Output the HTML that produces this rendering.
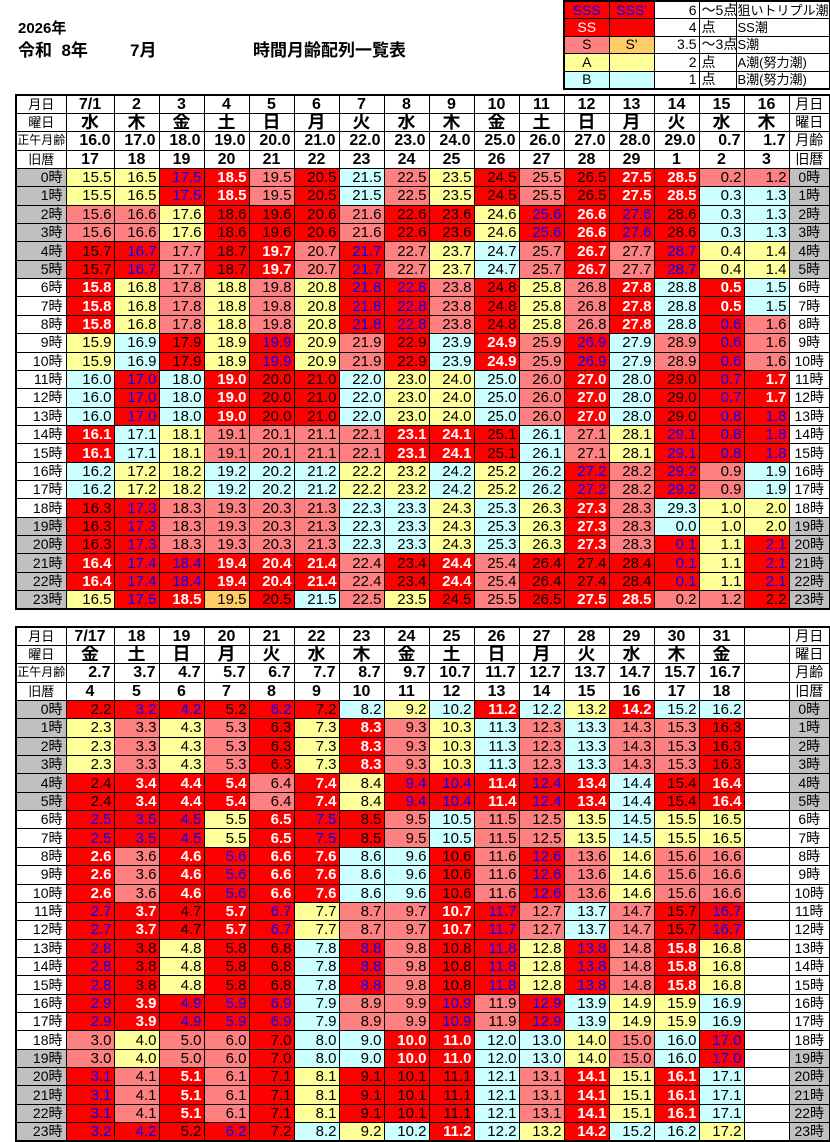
<!DOCTYPE html>
<html><head><meta charset="utf-8">
<style>
body{margin:0;width:830px;height:1142px;background:#fff;position:relative;overflow:hidden;font-family:"Liberation Sans","Noto Sans CJK JP",sans-serif}
.t{position:absolute;font-weight:bold;font-size:17px;color:#000;white-space:nowrap}
table{position:absolute;border-collapse:collapse;table-layout:fixed;border:2px solid #000}
td{border:1px solid #000;padding:0 2px 0 0;text-align:right;font-size:15px;line-height:15px;white-space:nowrap;overflow:hidden;color:#000}
.m tr{height:18.36px}
.m td:first-child{font-size:14px;padding-right:3px}
.m td:last-child{text-align:center;font-size:14px;padding:0}
.h td{text-align:center;font-weight:bold;font-size:16px;padding:0}
.h.w td{font-size:18px}
.h td.r{text-align:right;padding-right:3px}
.h td:first-child{font-weight:normal;font-size:13px;text-align:center;padding:0}
.h td:last-child{font-weight:normal;font-size:14px}
.g{background:#c0c0c0}
.Y{background:#ffff99}.C{background:#ccffff}.P{background:#ff8080}.R{background:#ff0000}
.W{background:#ff0000;color:#fff;font-weight:bold}.U{background:#ff0000;color:#0000ff}.O{background:#ffcc66}
.L td{font-size:14px;height:16px;padding:0 2px}
.L .c{text-align:center}.L .l{text-align:left}.L .s{font-size:13px;padding:0 1px}
</style></head><body>
<div class="t" style="left:18px;top:17px;font-size:15px">2026年</div>
<div class="t" style="left:18px;top:36px">令和&nbsp;&nbsp;8年</div>
<div class="t" style="left:130px;top:36px">7月</div>
<div class="t" style="left:253px;top:36px">時間月齢配列一覧表</div>

<table class="L" style="left:563px;top:0;width:266px;height:90px">
<colgroup><col style="width:45px"><col style="width:45px"><col style="width:45px"><col style="width:37px"><col style="width:94px"></colgroup>
<tr><td class="U c">SSS</td><td class="U c">SSS'</td><td>6</td><td class="l">～5点</td><td class="l s">狙いトリプル潮</td></tr>
<tr><td class="W c" style="font-weight:normal">SS</td><td class="R"></td><td>4</td><td class="l">点</td><td class="l s">SS潮</td></tr>
<tr><td class="P c">S</td><td class="O c">S'</td><td>3.5</td><td class="l">～3点</td><td class="l s">S潮</td></tr>
<tr><td class="Y c">A</td><td class="Y"></td><td>2</td><td class="l">点</td><td class="l s">A潮(努力潮)</td></tr>
<tr><td class="C c">B</td><td class="C"></td><td>1</td><td class="l">点</td><td class="l s">B潮(努力潮)</td></tr>
</table>

<table class="m" style="left:15px;top:94px;width:814px;height:516px">
<colgroup><col style="width:50px"><col style="width:48px"><col span="15" style="width:45px"><col style="width:41px"></colgroup>
<tr class="h"><td>月日</td><td>7/1</td><td>2</td><td>3</td><td>4</td><td>5</td><td>6</td><td>7</td><td>8</td><td>9</td><td>10</td><td>11</td><td>12</td><td>13</td><td>14</td><td>15</td><td>16</td><td>月日</td></tr>
<tr class="h w"><td>曜日</td><td>水</td><td>木</td><td>金</td><td>土</td><td>日</td><td>月</td><td>火</td><td>水</td><td>木</td><td>金</td><td>土</td><td>日</td><td>月</td><td>火</td><td>水</td><td>木</td><td>曜日</td></tr>
<tr class="h"><td style="font-size:12px">正午月齢</td><td class="r">16.0</td><td class="r">17.0</td><td class="r">18.0</td><td class="r">19.0</td><td class="r">20.0</td><td class="r">21.0</td><td class="r">22.0</td><td class="r">23.0</td><td class="r">24.0</td><td class="r">25.0</td><td class="r">26.0</td><td class="r">27.0</td><td class="r">28.0</td><td class="r">29.0</td><td class="r">0.7</td><td class="r">1.7</td><td>月齢</td></tr>
<tr class="h"><td>旧暦</td><td>17</td><td>18</td><td>19</td><td>20</td><td>21</td><td>22</td><td>23</td><td>24</td><td>25</td><td>26</td><td>27</td><td>28</td><td>29</td><td>1</td><td>2</td><td>3</td><td>旧暦</td></tr>
<tr><td class="g">0時</td><td class="Y">15.5</td><td class="Y">16.5</td><td class="U">17.5</td><td class="W">18.5</td><td class="P">19.5</td><td class="R">20.5</td><td class="C">21.5</td><td class="P">22.5</td><td class="Y">23.5</td><td class="R">24.5</td><td class="P">25.5</td><td class="R">26.5</td><td class="W">27.5</td><td class="W">28.5</td><td class="P">0.2</td><td class="P">1.2</td><td class="g">0時</td></tr>
<tr><td class="g">1時</td><td class="Y">15.5</td><td class="Y">16.5</td><td class="U">17.5</td><td class="W">18.5</td><td class="P">19.5</td><td class="R">20.5</td><td class="C">21.5</td><td class="P">22.5</td><td class="Y">23.5</td><td class="R">24.5</td><td class="P">25.5</td><td class="R">26.5</td><td class="W">27.5</td><td class="W">28.5</td><td class="C">0.3</td><td class="C">1.3</td><td class="g">1時</td></tr>
<tr><td class="g">2時</td><td class="P">15.6</td><td class="P">16.6</td><td class="Y">17.6</td><td class="R">18.6</td><td class="R">19.6</td><td class="R">20.6</td><td class="P">21.6</td><td class="R">22.6</td><td class="R">23.6</td><td class="Y">24.6</td><td class="U">25.6</td><td class="W">26.6</td><td class="U">27.6</td><td class="R">28.6</td><td class="C">0.3</td><td class="C">1.3</td><td class="g">2時</td></tr>
<tr><td class="g">3時</td><td class="P">15.6</td><td class="P">16.6</td><td class="Y">17.6</td><td class="R">18.6</td><td class="R">19.6</td><td class="R">20.6</td><td class="P">21.6</td><td class="R">22.6</td><td class="R">23.6</td><td class="Y">24.6</td><td class="U">25.6</td><td class="W">26.6</td><td class="U">27.6</td><td class="R">28.6</td><td class="C">0.3</td><td class="C">1.3</td><td class="g">3時</td></tr>
<tr><td class="g">4時</td><td class="R">15.7</td><td class="U">16.7</td><td class="P">17.7</td><td class="R">18.7</td><td class="W">19.7</td><td class="P">20.7</td><td class="U">21.7</td><td class="P">22.7</td><td class="Y">23.7</td><td class="C">24.7</td><td class="P">25.7</td><td class="W">26.7</td><td class="P">27.7</td><td class="U">28.7</td><td class="Y">0.4</td><td class="Y">1.4</td><td class="g">4時</td></tr>
<tr><td class="g">5時</td><td class="R">15.7</td><td class="U">16.7</td><td class="P">17.7</td><td class="R">18.7</td><td class="W">19.7</td><td class="P">20.7</td><td class="U">21.7</td><td class="P">22.7</td><td class="Y">23.7</td><td class="C">24.7</td><td class="P">25.7</td><td class="W">26.7</td><td class="P">27.7</td><td class="U">28.7</td><td class="Y">0.4</td><td class="Y">1.4</td><td class="g">5時</td></tr>
<tr><td>6時</td><td class="W">15.8</td><td class="Y">16.8</td><td class="P">17.8</td><td class="Y">18.8</td><td class="P">19.8</td><td class="Y">20.8</td><td class="U">21.8</td><td class="U">22.8</td><td class="P">23.8</td><td class="R">24.8</td><td class="Y">25.8</td><td class="P">26.8</td><td class="W">27.8</td><td class="C">28.8</td><td class="W">0.5</td><td class="C">1.5</td><td>6時</td></tr>
<tr><td>7時</td><td class="W">15.8</td><td class="Y">16.8</td><td class="P">17.8</td><td class="Y">18.8</td><td class="P">19.8</td><td class="Y">20.8</td><td class="U">21.8</td><td class="U">22.8</td><td class="P">23.8</td><td class="R">24.8</td><td class="Y">25.8</td><td class="P">26.8</td><td class="W">27.8</td><td class="C">28.8</td><td class="W">0.5</td><td class="C">1.5</td><td>7時</td></tr>
<tr><td>8時</td><td class="W">15.8</td><td class="Y">16.8</td><td class="P">17.8</td><td class="Y">18.8</td><td class="P">19.8</td><td class="Y">20.8</td><td class="U">21.8</td><td class="U">22.8</td><td class="P">23.8</td><td class="R">24.8</td><td class="Y">25.8</td><td class="P">26.8</td><td class="W">27.8</td><td class="C">28.8</td><td class="U">0.6</td><td class="P">1.6</td><td>8時</td></tr>
<tr><td>9時</td><td class="Y">15.9</td><td class="C">16.9</td><td class="R">17.9</td><td class="Y">18.9</td><td class="U">19.9</td><td class="Y">20.9</td><td class="P">21.9</td><td class="R">22.9</td><td class="C">23.9</td><td class="W">24.9</td><td class="P">25.9</td><td class="U">26.9</td><td class="C">27.9</td><td class="P">28.9</td><td class="U">0.6</td><td class="P">1.6</td><td>9時</td></tr>
<tr><td>10時</td><td class="Y">15.9</td><td class="C">16.9</td><td class="R">17.9</td><td class="Y">18.9</td><td class="U">19.9</td><td class="Y">20.9</td><td class="P">21.9</td><td class="R">22.9</td><td class="C">23.9</td><td class="W">24.9</td><td class="P">25.9</td><td class="U">26.9</td><td class="C">27.9</td><td class="P">28.9</td><td class="U">0.6</td><td class="P">1.6</td><td>10時</td></tr>
<tr><td>11時</td><td class="C">16.0</td><td class="U">17.0</td><td class="C">18.0</td><td class="W">19.0</td><td class="R">20.0</td><td class="R">21.0</td><td class="C">22.0</td><td class="Y">23.0</td><td class="Y">24.0</td><td class="C">25.0</td><td class="P">26.0</td><td class="W">27.0</td><td class="C">28.0</td><td class="R">29.0</td><td class="U">0.7</td><td class="W">1.7</td><td>11時</td></tr>
<tr><td>12時</td><td class="C">16.0</td><td class="U">17.0</td><td class="C">18.0</td><td class="W">19.0</td><td class="R">20.0</td><td class="R">21.0</td><td class="C">22.0</td><td class="Y">23.0</td><td class="Y">24.0</td><td class="C">25.0</td><td class="P">26.0</td><td class="W">27.0</td><td class="C">28.0</td><td class="R">29.0</td><td class="U">0.7</td><td class="W">1.7</td><td>12時</td></tr>
<tr><td>13時</td><td class="C">16.0</td><td class="U">17.0</td><td class="C">18.0</td><td class="W">19.0</td><td class="R">20.0</td><td class="R">21.0</td><td class="C">22.0</td><td class="Y">23.0</td><td class="Y">24.0</td><td class="C">25.0</td><td class="P">26.0</td><td class="W">27.0</td><td class="C">28.0</td><td class="R">29.0</td><td class="U">0.8</td><td class="U">1.8</td><td>13時</td></tr>
<tr><td>14時</td><td class="W">16.1</td><td class="C">17.1</td><td class="Y">18.1</td><td class="P">19.1</td><td class="P">20.1</td><td class="P">21.1</td><td class="P">22.1</td><td class="W">23.1</td><td class="W">24.1</td><td class="R">25.1</td><td class="C">26.1</td><td class="P">27.1</td><td class="Y">28.1</td><td class="U">29.1</td><td class="U">0.8</td><td class="U">1.8</td><td>14時</td></tr>
<tr><td>15時</td><td class="W">16.1</td><td class="C">17.1</td><td class="Y">18.1</td><td class="P">19.1</td><td class="P">20.1</td><td class="P">21.1</td><td class="P">22.1</td><td class="W">23.1</td><td class="W">24.1</td><td class="R">25.1</td><td class="C">26.1</td><td class="P">27.1</td><td class="Y">28.1</td><td class="U">29.1</td><td class="U">0.8</td><td class="U">1.8</td><td>15時</td></tr>
<tr><td>16時</td><td class="C">16.2</td><td class="Y">17.2</td><td class="Y">18.2</td><td class="C">19.2</td><td class="C">20.2</td><td class="C">21.2</td><td class="Y">22.2</td><td class="Y">23.2</td><td class="C">24.2</td><td class="Y">25.2</td><td class="C">26.2</td><td class="U">27.2</td><td class="P">28.2</td><td class="U">29.2</td><td class="P">0.9</td><td class="C">1.9</td><td>16時</td></tr>
<tr><td>17時</td><td class="C">16.2</td><td class="Y">17.2</td><td class="Y">18.2</td><td class="C">19.2</td><td class="C">20.2</td><td class="C">21.2</td><td class="Y">22.2</td><td class="Y">23.2</td><td class="C">24.2</td><td class="Y">25.2</td><td class="C">26.2</td><td class="U">27.2</td><td class="P">28.2</td><td class="U">29.2</td><td class="P">0.9</td><td class="C">1.9</td><td>17時</td></tr>
<tr><td>18時</td><td class="R">16.3</td><td class="U">17.3</td><td class="P">18.3</td><td class="P">19.3</td><td class="P">20.3</td><td class="P">21.3</td><td class="C">22.3</td><td class="C">23.3</td><td class="Y">24.3</td><td class="C">25.3</td><td class="Y">26.3</td><td class="W">27.3</td><td class="P">28.3</td><td class="C">29.3</td><td class="Y">1.0</td><td class="Y">2.0</td><td>18時</td></tr>
<tr><td class="g">19時</td><td class="R">16.3</td><td class="U">17.3</td><td class="P">18.3</td><td class="P">19.3</td><td class="P">20.3</td><td class="P">21.3</td><td class="C">22.3</td><td class="C">23.3</td><td class="Y">24.3</td><td class="C">25.3</td><td class="Y">26.3</td><td class="W">27.3</td><td class="P">28.3</td><td class="C">0.0</td><td class="Y">1.0</td><td class="Y">2.0</td><td class="g">19時</td></tr>
<tr><td class="g">20時</td><td class="R">16.3</td><td class="U">17.3</td><td class="P">18.3</td><td class="P">19.3</td><td class="P">20.3</td><td class="P">21.3</td><td class="C">22.3</td><td class="C">23.3</td><td class="Y">24.3</td><td class="C">25.3</td><td class="Y">26.3</td><td class="W">27.3</td><td class="P">28.3</td><td class="U">0.1</td><td class="Y">1.1</td><td class="U">2.1</td><td class="g">20時</td></tr>
<tr><td class="g">21時</td><td class="W">16.4</td><td class="U">17.4</td><td class="U">18.4</td><td class="W">19.4</td><td class="W">20.4</td><td class="W">21.4</td><td class="P">22.4</td><td class="R">23.4</td><td class="W">24.4</td><td class="P">25.4</td><td class="R">26.4</td><td class="R">27.4</td><td class="R">28.4</td><td class="U">0.1</td><td class="Y">1.1</td><td class="U">2.1</td><td class="g">21時</td></tr>
<tr><td class="g">22時</td><td class="W">16.4</td><td class="U">17.4</td><td class="U">18.4</td><td class="W">19.4</td><td class="W">20.4</td><td class="W">21.4</td><td class="P">22.4</td><td class="R">23.4</td><td class="W">24.4</td><td class="P">25.4</td><td class="R">26.4</td><td class="R">27.4</td><td class="R">28.4</td><td class="U">0.1</td><td class="Y">1.1</td><td class="U">2.1</td><td class="g">22時</td></tr>
<tr><td class="g">23時</td><td class="Y">16.5</td><td class="U">17.5</td><td class="W">18.5</td><td class="O">19.5</td><td class="R">20.5</td><td class="C">21.5</td><td class="P">22.5</td><td class="Y">23.5</td><td class="R">24.5</td><td class="P">25.5</td><td class="R">26.5</td><td class="W">27.5</td><td class="W">28.5</td><td class="P">0.2</td><td class="P">1.2</td><td class="R">2.2</td><td class="g">23時</td></tr>
</table>

<table class="m" style="left:15px;top:626px;width:814px;height:516px">
<colgroup><col style="width:50px"><col style="width:48px"><col span="15" style="width:45px"><col style="width:41px"></colgroup>
<tr class="h"><td>月日</td><td>7/17</td><td>18</td><td>19</td><td>20</td><td>21</td><td>22</td><td>23</td><td>24</td><td>25</td><td>26</td><td>27</td><td>28</td><td>29</td><td>30</td><td>31</td><td></td><td>月日</td></tr>
<tr class="h w"><td>曜日</td><td>金</td><td>土</td><td>日</td><td>月</td><td>火</td><td>水</td><td>木</td><td>金</td><td>土</td><td>日</td><td>月</td><td>火</td><td>水</td><td>木</td><td>金</td><td></td><td>曜日</td></tr>
<tr class="h"><td style="font-size:12px">正午月齢</td><td class="r">2.7</td><td class="r">3.7</td><td class="r">4.7</td><td class="r">5.7</td><td class="r">6.7</td><td class="r">7.7</td><td class="r">8.7</td><td class="r">9.7</td><td class="r">10.7</td><td class="r">11.7</td><td class="r">12.7</td><td class="r">13.7</td><td class="r">14.7</td><td class="r">15.7</td><td class="r">16.7</td><td></td><td>月齢</td></tr>
<tr class="h"><td>旧暦</td><td>4</td><td>5</td><td>6</td><td>7</td><td>8</td><td>9</td><td>10</td><td>11</td><td>12</td><td>13</td><td>14</td><td>15</td><td>16</td><td>17</td><td>18</td><td></td><td>旧暦</td></tr>
<tr><td class="g">0時</td><td class="R">2.2</td><td class="U">3.2</td><td class="U">4.2</td><td class="R">5.2</td><td class="U">6.2</td><td class="R">7.2</td><td class="C">8.2</td><td class="Y">9.2</td><td class="C">10.2</td><td class="W">11.2</td><td class="C">12.2</td><td class="Y">13.2</td><td class="W">14.2</td><td class="C">15.2</td><td class="C">16.2</td><td></td><td class="g">0時</td></tr>
<tr><td class="g">1時</td><td class="Y">2.3</td><td class="P">3.3</td><td class="Y">4.3</td><td class="P">5.3</td><td class="R">6.3</td><td class="Y">7.3</td><td class="W">8.3</td><td class="P">9.3</td><td class="Y">10.3</td><td class="C">11.3</td><td class="P">12.3</td><td class="C">13.3</td><td class="P">14.3</td><td class="P">15.3</td><td class="R">16.3</td><td></td><td class="g">1時</td></tr>
<tr><td class="g">2時</td><td class="Y">2.3</td><td class="P">3.3</td><td class="Y">4.3</td><td class="P">5.3</td><td class="R">6.3</td><td class="Y">7.3</td><td class="W">8.3</td><td class="P">9.3</td><td class="Y">10.3</td><td class="C">11.3</td><td class="P">12.3</td><td class="C">13.3</td><td class="P">14.3</td><td class="P">15.3</td><td class="R">16.3</td><td></td><td class="g">2時</td></tr>
<tr><td class="g">3時</td><td class="Y">2.3</td><td class="P">3.3</td><td class="Y">4.3</td><td class="P">5.3</td><td class="R">6.3</td><td class="Y">7.3</td><td class="W">8.3</td><td class="P">9.3</td><td class="Y">10.3</td><td class="C">11.3</td><td class="P">12.3</td><td class="C">13.3</td><td class="P">14.3</td><td class="P">15.3</td><td class="R">16.3</td><td></td><td class="g">3時</td></tr>
<tr><td class="g">4時</td><td class="R">2.4</td><td class="W">3.4</td><td class="W">4.4</td><td class="W">5.4</td><td class="P">6.4</td><td class="W">7.4</td><td class="Y">8.4</td><td class="U">9.4</td><td class="U">10.4</td><td class="W">11.4</td><td class="U">12.4</td><td class="W">13.4</td><td class="C">14.4</td><td class="R">15.4</td><td class="W">16.4</td><td></td><td class="g">4時</td></tr>
<tr><td class="g">5時</td><td class="R">2.4</td><td class="W">3.4</td><td class="W">4.4</td><td class="W">5.4</td><td class="P">6.4</td><td class="W">7.4</td><td class="Y">8.4</td><td class="U">9.4</td><td class="U">10.4</td><td class="W">11.4</td><td class="U">12.4</td><td class="W">13.4</td><td class="C">14.4</td><td class="R">15.4</td><td class="W">16.4</td><td></td><td class="g">5時</td></tr>
<tr><td>6時</td><td class="U">2.5</td><td class="U">3.5</td><td class="U">4.5</td><td class="Y">5.5</td><td class="W">6.5</td><td class="U">7.5</td><td class="R">8.5</td><td class="P">9.5</td><td class="C">10.5</td><td class="P">11.5</td><td class="P">12.5</td><td class="Y">13.5</td><td class="C">14.5</td><td class="Y">15.5</td><td class="Y">16.5</td><td></td><td>6時</td></tr>
<tr><td>7時</td><td class="U">2.5</td><td class="U">3.5</td><td class="U">4.5</td><td class="Y">5.5</td><td class="W">6.5</td><td class="U">7.5</td><td class="R">8.5</td><td class="P">9.5</td><td class="C">10.5</td><td class="P">11.5</td><td class="P">12.5</td><td class="Y">13.5</td><td class="C">14.5</td><td class="Y">15.5</td><td class="Y">16.5</td><td></td><td>7時</td></tr>
<tr><td>8時</td><td class="W">2.6</td><td class="P">3.6</td><td class="W">4.6</td><td class="U">5.6</td><td class="W">6.6</td><td class="W">7.6</td><td class="C">8.6</td><td class="C">9.6</td><td class="R">10.6</td><td class="P">11.6</td><td class="U">12.6</td><td class="P">13.6</td><td class="Y">14.6</td><td class="P">15.6</td><td class="P">16.6</td><td></td><td>8時</td></tr>
<tr><td>9時</td><td class="W">2.6</td><td class="P">3.6</td><td class="W">4.6</td><td class="U">5.6</td><td class="W">6.6</td><td class="W">7.6</td><td class="C">8.6</td><td class="C">9.6</td><td class="R">10.6</td><td class="P">11.6</td><td class="U">12.6</td><td class="P">13.6</td><td class="Y">14.6</td><td class="P">15.6</td><td class="P">16.6</td><td></td><td>9時</td></tr>
<tr><td>10時</td><td class="W">2.6</td><td class="P">3.6</td><td class="W">4.6</td><td class="U">5.6</td><td class="W">6.6</td><td class="W">7.6</td><td class="C">8.6</td><td class="C">9.6</td><td class="R">10.6</td><td class="P">11.6</td><td class="U">12.6</td><td class="P">13.6</td><td class="Y">14.6</td><td class="P">15.6</td><td class="P">16.6</td><td></td><td>10時</td></tr>
<tr><td>11時</td><td class="U">2.7</td><td class="W">3.7</td><td class="R">4.7</td><td class="W">5.7</td><td class="U">6.7</td><td class="Y">7.7</td><td class="P">8.7</td><td class="P">9.7</td><td class="W">10.7</td><td class="U">11.7</td><td class="P">12.7</td><td class="C">13.7</td><td class="P">14.7</td><td class="R">15.7</td><td class="U">16.7</td><td></td><td>11時</td></tr>
<tr><td>12時</td><td class="U">2.7</td><td class="W">3.7</td><td class="R">4.7</td><td class="W">5.7</td><td class="U">6.7</td><td class="Y">7.7</td><td class="P">8.7</td><td class="P">9.7</td><td class="W">10.7</td><td class="U">11.7</td><td class="P">12.7</td><td class="C">13.7</td><td class="P">14.7</td><td class="R">15.7</td><td class="U">16.7</td><td></td><td>12時</td></tr>
<tr><td>13時</td><td class="U">2.8</td><td class="R">3.8</td><td class="Y">4.8</td><td class="R">5.8</td><td class="R">6.8</td><td class="C">7.8</td><td class="U">8.8</td><td class="P">9.8</td><td class="R">10.8</td><td class="U">11.8</td><td class="Y">12.8</td><td class="U">13.8</td><td class="P">14.8</td><td class="W">15.8</td><td class="Y">16.8</td><td></td><td>13時</td></tr>
<tr><td>14時</td><td class="U">2.8</td><td class="R">3.8</td><td class="Y">4.8</td><td class="R">5.8</td><td class="R">6.8</td><td class="C">7.8</td><td class="U">8.8</td><td class="P">9.8</td><td class="R">10.8</td><td class="U">11.8</td><td class="Y">12.8</td><td class="U">13.8</td><td class="P">14.8</td><td class="W">15.8</td><td class="Y">16.8</td><td></td><td>14時</td></tr>
<tr><td>15時</td><td class="U">2.8</td><td class="R">3.8</td><td class="Y">4.8</td><td class="R">5.8</td><td class="R">6.8</td><td class="C">7.8</td><td class="U">8.8</td><td class="P">9.8</td><td class="R">10.8</td><td class="U">11.8</td><td class="Y">12.8</td><td class="U">13.8</td><td class="P">14.8</td><td class="W">15.8</td><td class="Y">16.8</td><td></td><td>15時</td></tr>
<tr><td>16時</td><td class="U">2.9</td><td class="W">3.9</td><td class="U">4.9</td><td class="U">5.9</td><td class="U">6.9</td><td class="C">7.9</td><td class="P">8.9</td><td class="P">9.9</td><td class="U">10.9</td><td class="P">11.9</td><td class="U">12.9</td><td class="C">13.9</td><td class="Y">14.9</td><td class="Y">15.9</td><td class="C">16.9</td><td></td><td>16時</td></tr>
<tr><td>17時</td><td class="U">2.9</td><td class="W">3.9</td><td class="U">4.9</td><td class="U">5.9</td><td class="U">6.9</td><td class="C">7.9</td><td class="P">8.9</td><td class="P">9.9</td><td class="U">10.9</td><td class="P">11.9</td><td class="U">12.9</td><td class="C">13.9</td><td class="Y">14.9</td><td class="Y">15.9</td><td class="C">16.9</td><td></td><td>17時</td></tr>
<tr><td>18時</td><td class="P">3.0</td><td class="Y">4.0</td><td class="P">5.0</td><td class="P">6.0</td><td class="R">7.0</td><td class="C">8.0</td><td class="C">9.0</td><td class="W">10.0</td><td class="W">11.0</td><td class="C">12.0</td><td class="C">13.0</td><td class="Y">14.0</td><td class="P">15.0</td><td class="C">16.0</td><td class="U">17.0</td><td></td><td>18時</td></tr>
<tr><td class="g">19時</td><td class="P">3.0</td><td class="Y">4.0</td><td class="P">5.0</td><td class="P">6.0</td><td class="R">7.0</td><td class="C">8.0</td><td class="C">9.0</td><td class="W">10.0</td><td class="W">11.0</td><td class="C">12.0</td><td class="C">13.0</td><td class="Y">14.0</td><td class="P">15.0</td><td class="C">16.0</td><td class="U">17.0</td><td></td><td class="g">19時</td></tr>
<tr><td class="g">20時</td><td class="U">3.1</td><td class="P">4.1</td><td class="W">5.1</td><td class="P">6.1</td><td class="R">7.1</td><td class="Y">8.1</td><td class="R">9.1</td><td class="R">10.1</td><td class="R">11.1</td><td class="C">12.1</td><td class="P">13.1</td><td class="W">14.1</td><td class="Y">15.1</td><td class="W">16.1</td><td class="C">17.1</td><td></td><td class="g">20時</td></tr>
<tr><td class="g">21時</td><td class="U">3.1</td><td class="P">4.1</td><td class="W">5.1</td><td class="P">6.1</td><td class="R">7.1</td><td class="Y">8.1</td><td class="R">9.1</td><td class="R">10.1</td><td class="R">11.1</td><td class="C">12.1</td><td class="P">13.1</td><td class="W">14.1</td><td class="Y">15.1</td><td class="W">16.1</td><td class="C">17.1</td><td></td><td class="g">21時</td></tr>
<tr><td class="g">22時</td><td class="U">3.1</td><td class="P">4.1</td><td class="W">5.1</td><td class="P">6.1</td><td class="R">7.1</td><td class="Y">8.1</td><td class="R">9.1</td><td class="R">10.1</td><td class="R">11.1</td><td class="C">12.1</td><td class="P">13.1</td><td class="W">14.1</td><td class="Y">15.1</td><td class="W">16.1</td><td class="C">17.1</td><td></td><td class="g">22時</td></tr>
<tr><td class="g">23時</td><td class="U">3.2</td><td class="U">4.2</td><td class="R">5.2</td><td class="U">6.2</td><td class="R">7.2</td><td class="C">8.2</td><td class="Y">9.2</td><td class="C">10.2</td><td class="W">11.2</td><td class="C">12.2</td><td class="Y">13.2</td><td class="W">14.2</td><td class="C">15.2</td><td class="C">16.2</td><td class="Y">17.2</td><td></td><td class="g">23時</td></tr>
</table>
</body></html>
